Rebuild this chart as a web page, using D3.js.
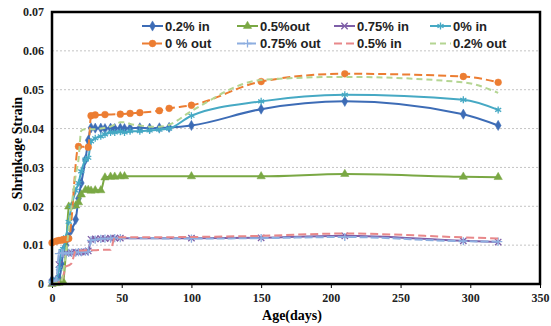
<!DOCTYPE html>
<html>
<head>
<meta charset="utf-8">
<title>Shrinkage strain vs age</title>
<script src="https://d3js.org/d3.v7.min.js"></script>
<style>
    body { margin: 0; background: #fff; }
    .tick text { font-family: "Liberation Serif", "Times New Roman", serif; font-weight: bold; font-size: 12px; fill: #222; }
    .legend text { font-family: "Liberation Sans", Arial, sans-serif; font-weight: bold; font-size: 13px; fill: #222; }
</style>
</head>
<body>
<div id="chart"></div>
<script>
// measurement ages (days); null = no reading for that series
const days = [0, 3, 5, 7, 8, 10, 12, 14, 17, 19, 21, 24, 26, 28, 31, 35, 38, 42, 45, 49, 52, 56, 63, 70, 77, 84, 100, 150, 210, 295, 320];

const in02   = [0.001, 0.001, 0.0015, 0.005, 0.0087, 0.010, 0.012, 0.014, 0.0166, 0.022, 0.026, 0.032, 0.037, 0.0402, 0.0401, 0.0401, 0.040, 0.0401, 0.040, 0.0401, 0.040, 0.0401, 0.0402, 0.0401, 0.0402, 0.0403, 0.0408, 0.045, 0.047, 0.0437, 0.0408];
const out05  = [0, 0.0002, 0.0003, 0.0005, 0.0006, 0.0085, 0.0199, 0.020, 0.0202, 0.021, 0.023, 0.0242, 0.0242, 0.024, 0.0241, 0.0241, 0.0274, 0.0276, 0.0276, 0.0277, 0.0277, null, null, null, null, null, 0.0277, 0.0277, 0.0283, 0.0276, 0.0275];
const in075  = [0.0003, 0.0005, 0.005, 0.0075, 0.0078, 0.008, 0.0079, 0.0081, 0.0082, 0.0081, 0.0083, 0.0082, 0.0085, 0.0115, 0.0116, 0.0117, 0.0117, 0.0118, 0.0118, 0.0118, null, null, null, null, null, null, 0.0118, 0.0119, 0.0124, 0.0111, 0.0108];
const in0    = [0.0005, 0.001, 0.004, 0.0085, 0.009, 0.012, 0.016, 0.020, 0.024, 0.026, 0.029, 0.032, 0.0325, 0.0367, 0.0375, 0.038, 0.0385, 0.039, 0.039, 0.0392, 0.039, 0.0393, 0.0393, 0.0395, 0.0397, 0.040, 0.0433, 0.047, 0.0487, 0.0474, 0.0448];
const out0   = [0.0106, 0.011, 0.0112, 0.0113, 0.0114, 0.0115, 0.0117, null, null, 0.0354, null, null, 0.0352, 0.0433, 0.0435, null, 0.0436, null, null, 0.0437, null, 0.0439, 0.0441, null, 0.0446, 0.0452, 0.046, 0.0521, 0.0541, 0.0534, 0.0519];
const out075 = [0.0005, 0.001, 0.0078, 0.008, 0.0079, 0.0078, 0.008, 0.008, 0.0081, 0.0082, 0.0082, 0.0083, 0.0084, 0.0112, 0.0114, 0.0116, 0.0117, 0.0117, 0.0118, 0.0118, null, null, null, null, null, null, 0.0117, 0.0118, 0.0121, 0.011, 0.0109];
const in05   = [0, 0.0002, 0.0005, 0.001, 0.002, 0.0045, 0.0048, 0.0053, 0.0085, 0.0086, 0.0086, 0.0087, 0.0087, 0.0087, 0.0087, 0.0088, 0.0088, 0.0088, 0.0119, 0.012, 0.012, null, null, null, null, null, 0.0121, 0.0124, 0.013, 0.012, 0.0117];
const out02  = [0, 0.0003, 0.0005, 0.001, 0.003, 0.008, 0.014, 0.020, 0.028, 0.032, 0.0395, 0.0398, 0.0398, 0.0398, 0.0398, 0.040, 0.0402, 0.0405, 0.041, 0.0416, 0.0416, 0.0412, 0.0408, 0.0405, 0.0405, 0.041, 0.0445, 0.0525, 0.0533, 0.0519, 0.0492];

const seriesNames = ["0.2% in", "0.5%out", "0.75% in", "0% in", "0 % out", "0.75% out", "0.5% in", "0.2% out"];
const seriesValues = [in02, out05, in075, in0, out0, out075, in05, out02];

const xTicks = [0, 50, 100, 150, 200, 250, 300, 350];
const yTicks = [0, 0.01, 0.02, 0.03, 0.04, 0.05, 0.06, 0.07];

// look of each series (same order as seriesNames)
const styles = [
    {color: "#3d6cb6", dash: null,  symbol: d3.symbolDiamond,  size: 30, filled: true},
    {color: "#7aa844", dash: null,  symbol: d3.symbolTriangle, size: 30, filled: true},
    {color: "#7e5fa8", dash: null,  symbol: d3.symbolX,        size: 28, filled: false},
    {color: "#46a9c4", dash: null,  symbol: d3.symbolAsterisk, size: 34, filled: false},
    {color: "#ec7d32", dash: "8,4", symbol: d3.symbolCircle,   size: 36, filled: true},
    {color: "#8daee0", dash: "8,3", symbol: d3.symbolPlus,     size: 24, filled: false},
    {color: "#e8888a", dash: "8,4", symbol: null},
    {color: "#b4d592", dash: "6,4", symbol: null}
];

const W = 551, H = 326;
const margin = {top: 12, right: 11, bottom: 42, left: 52};
const width = W - margin.left - margin.right,
      height = H - margin.top - margin.bottom;

const svg = d3.select("#chart").append("svg")
    .attr("width", W)
    .attr("height", H);

const g = svg.append("g")
    .attr("transform", "translate(" + margin.left + "," + margin.top + ")");

const x = d3.scaleLinear().domain([0, 350]).range([0, width]);
const y = d3.scaleLinear().domain([0, 0.07]).range([height, 0]);

// dotted gridlines
g.selectAll(".grid")
    .data(yTicks.slice(1, -1))
    .enter().append("line")
    .attr("x1", 0).attr("x2", width)
    .attr("y1", d => y(d)).attr("y2", d => y(d))
    .attr("stroke", "#c4c4c4")
    .attr("stroke-width", 1)
    .attr("stroke-dasharray", "2,2");

// axes
const xAxis = g.append("g")
    .attr("transform", "translate(0," + height + ")")
    .call(d3.axisBottom(x).tickValues(xTicks).tickSize(4).tickPadding(5).tickFormat(d3.format("d")));
const yAxis = g.append("g")
    .call(d3.axisLeft(y).tickValues(yTicks).tickSize(0).tickPadding(8)
        .tickFormat(d => d === 0 ? "0" : d3.format(".2f")(d)));
[xAxis, yAxis].forEach(a => {
    a.select(".domain").remove();
    a.selectAll(".tick line").attr("stroke", "#000");
});

// series lines + markers
const line = d3.line()
    .x(d => x(d[0]))
    .y(d => y(d[1]))
    .curve(d3.curveMonotoneX);

seriesValues.forEach((vals, i) => {
    const st = styles[i];
    const pts = days.map((d, j) => [d, vals[j]]).filter(p => p[1] != null);
    g.append("path")
        .datum(pts)
        .attr("fill", "none")
        .attr("stroke", st.color)
        .attr("stroke-width", 2)
        .attr("stroke-dasharray", st.dash)
        .attr("d", line);
    if (st.symbol) {
        g.selectAll(".m" + i)
            .data(pts)
            .enter().append("path")
            .attr("transform", d => "translate(" + x(d[0]) + "," + y(d[1]) + ")")
            .attr("d", d3.symbol().type(st.symbol).size(st.size))
            .attr("fill", st.filled ? st.color : "none")
            .attr("stroke", st.color)
            .attr("stroke-width", st.filled ? 0.5 : 1.3);
    }
});

// plot frame
g.append("rect")
    .attr("width", width).attr("height", height)
    .attr("fill", "none")
    .attr("stroke", "#000")
    .attr("stroke-width", 2.5);

// legend: 2 rows x 4 columns
const legendX = [90, 185, 282, 378];
const legendY = [14, 31.5];
const legend = g.append("g").attr("class", "legend");
seriesNames.forEach((name, i) => {
    const st = styles[i];
    const lx = legendX[i % 4], ly = legendY[Math.floor(i / 4)];
    const item = legend.append("g").attr("transform", "translate(" + lx + "," + ly + ")");
    item.append("line")
        .attr("x1", 0).attr("x2", 21)
        .attr("stroke", st.color)
        .attr("stroke-width", 2)
        .attr("stroke-dasharray", st.dash);
    if (st.symbol) {
        item.append("path")
            .attr("transform", "translate(10.5,0)")
            .attr("d", d3.symbol().type(st.symbol).size(st.size))
            .attr("fill", st.filled ? st.color : "none")
            .attr("stroke", st.color)
            .attr("stroke-width", st.filled ? 0.5 : 1.3);
    }
    item.append("text")
        .attr("x", 23).attr("dy", "0.35em")
        .text(name);
});

// axis titles
svg.append("text")
    .attr("x", margin.left + x(175) - 4).attr("y", 320)
    .attr("text-anchor", "middle")
    .style("font-family", "'Liberation Serif', 'Times New Roman', serif")
    .style("font-weight", "bold").style("font-size", "14px")
    .text("Age(days)");

svg.append("text")
    .attr("transform", "translate(22," + (margin.top + height / 2) + ") rotate(-90)")
    .attr("text-anchor", "middle")
    .style("font-family", "'Liberation Serif', 'Times New Roman', serif")
    .style("font-weight", "bold").style("font-size", "14px")
    .text("Shrinkage Strain");
</script>
</body>
</html>
